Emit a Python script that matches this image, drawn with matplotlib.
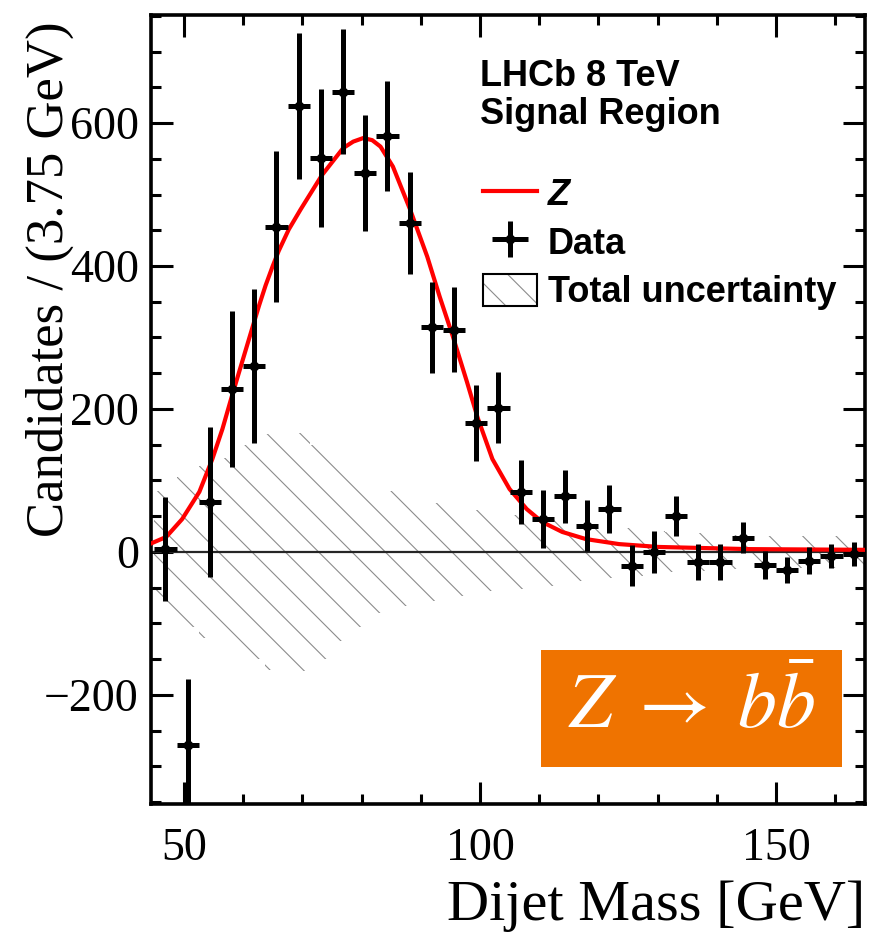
import numpy as np
import matplotlib
matplotlib.use("Agg")
import matplotlib.pyplot as plt
from matplotlib.patches import Patch, Rectangle
from matplotlib.legend_handler import HandlerTuple
from matplotlib.ticker import MultipleLocator

plt.rcParams['font.family'] = 'Liberation Serif'
plt.rcParams['mathtext.fontset'] = 'stix'
plt.rcParams['hatch.linewidth'] = 0.8

bin_width = 3.75

# background-subtracted dijet mass spectrum
mass = [46.875, 50.625, 54.375, 58.125, 61.875, 65.625, 69.375, 73.125,
        76.875, 80.625, 84.375, 88.125, 91.875, 95.625, 99.375, 103.125,
        106.875, 110.625, 114.375, 118.125, 121.875, 125.625, 129.375, 133.125,
        136.875, 140.625, 144.375, 148.125, 151.875, 155.625, 159.375, 163.125]
counts = [4, -270, 70, 228, 260, 455, 624, 551,
          644, 530, 582, 460, 314, 311, 180, 202,
          84, 46, 78, 37, 60, -19, 0, 50,
          -14, -14, 20, -18, -25, -12, -6, -3]
errors = [73, 93, 105, 109, 108, 106, 102, 96,
          88, 81, 77, 71, 63, 59, 53, 50,
          45, 40, 37, 35, 34, 29, 29, 28,
          25, 25, 22, 20, 18, 19, 17, 17]

# total uncertainty band, half width per bin
band_half = [85, 105, 120, 132, 150, 165, 166, 150,
             125, 105, 85, 75, 68, 62, 58, 55,
             52, 48, 45, 40, 36, 33, 30, 28,
             26, 25, 24, 23, 22, 22, 22, 22]

# fitted Z lineshape
curve_x = [44.2, 47.0, 49.7, 52.6, 54.8, 56.5, 58.1, 59.8, 61.5, 62.7, 63.8,
           65.0, 66.0, 67.7, 69.7, 73.3, 76.9, 78.6, 80.3, 81.8, 83.2, 85.3,
           88.2, 91.1, 93.2, 95.4, 97.8, 99.6, 102.1, 105.0, 107.9, 110.5,
           113.9, 117.9, 123.5, 130.2, 145.3, 165.0]
curve_y = [11, 21, 46, 84, 130, 172, 218, 265, 312, 345, 373,
           400, 421, 451, 479, 527, 565, 574, 579, 576, 567, 539,
           479, 413, 357, 302, 238, 188, 130, 88, 60, 42,
           28, 18, 11, 7, 4, 3]

mass = np.array(mass)
band_half = np.array(band_half)
edges = np.append(mass - bin_width / 2, mass[-1] + bin_width / 2)
band_step = np.append(band_half, band_half[-1])

fig = plt.figure(figsize=(8.7, 9.41), dpi=100)
ax = fig.add_axes([0.174, 0.146, 0.820, 0.838])

ax.fill_between(edges, -band_step, band_step, step='post', facecolor='none',
                edgecolor='0.55', linewidth=0, hatch='\\', zorder=1)
ax.axhline(0, color='0.15', lw=1.6, zorder=2)
zline, = ax.plot(curve_x, curve_y, color='#ff0000', lw=3.0, zorder=3)
data = ax.errorbar(mass, counts, xerr=bin_width / 2, yerr=errors, fmt='o',
                   ms=6, color='black', elinewidth=3.6, capsize=0, zorder=4)

ax.set_xlim(44.5, 165)
ax.set_ylim(-352, 751)
ax.xaxis.set_major_locator(MultipleLocator(50))
ax.xaxis.set_minor_locator(MultipleLocator(10))
ax.yaxis.set_major_locator(MultipleLocator(200))
ax.yaxis.set_minor_locator(MultipleLocator(50))
ax.tick_params(which='both', direction='in', top=True, right=True, width=2.2,
               labelsize=33)
ax.tick_params(which='major', length=16)
ax.tick_params(which='minor', length=7.5)
ax.tick_params(axis='x', pad=17)
ax.tick_params(axis='y', pad=9)
for s in ax.spines.values():
    s.set_linewidth(2.6)

ax.set_xlabel('Dijet Mass [GeV]', fontsize=42, loc='right')
ax.set_ylabel('Candidates / (3.75 GeV)', fontsize=38, loc='top')
ax.xaxis.set_label_coords(1.0, -0.097)
ax.yaxis.set_label_coords(-0.108, 0.992)

ax.text(0.461, 0.944, 'LHCb 8 TeV\nSignal Region', transform=ax.transAxes,
        ha='left', va='top', fontsize=26, fontweight='bold',
        family='Liberation Sans', linespacing=1.12)

band_patch = Patch(facecolor='none', edgecolor='0.55', linewidth=0, hatch='\\')
band_frame = Patch(facecolor='none', edgecolor='black', linewidth=1.5)
leg = ax.legend([zline, data, (band_patch, band_frame)],
                ['Z', 'Data', 'Total uncertainty'],
                handler_map={tuple: HandlerTuple(ndivide=1, pad=0)},
                loc='upper left', bbox_to_anchor=(0.465, 0.795), frameon=False,
                prop={'family': 'Liberation Sans', 'weight': 'bold', 'size': 26},
                handlelength=1.5, handleheight=1.0, handletextpad=0.3,
                labelspacing=0.33, borderaxespad=0, borderpad=0)
leg.get_texts()[0].set_fontstyle('italic')

ax.add_patch(Rectangle((0.546, 0.047), 0.422, 0.148, transform=ax.transAxes,
                       facecolor='#ef7300', edgecolor='none', zorder=5))
ax.text(0.757, 0.121, r'$Z\;\rightarrow\;b\bar{b}$', transform=ax.transAxes,
        ha='center', va='center', color='white', fontsize=56, zorder=6)

fig.savefig('out.png', dpi=100)
